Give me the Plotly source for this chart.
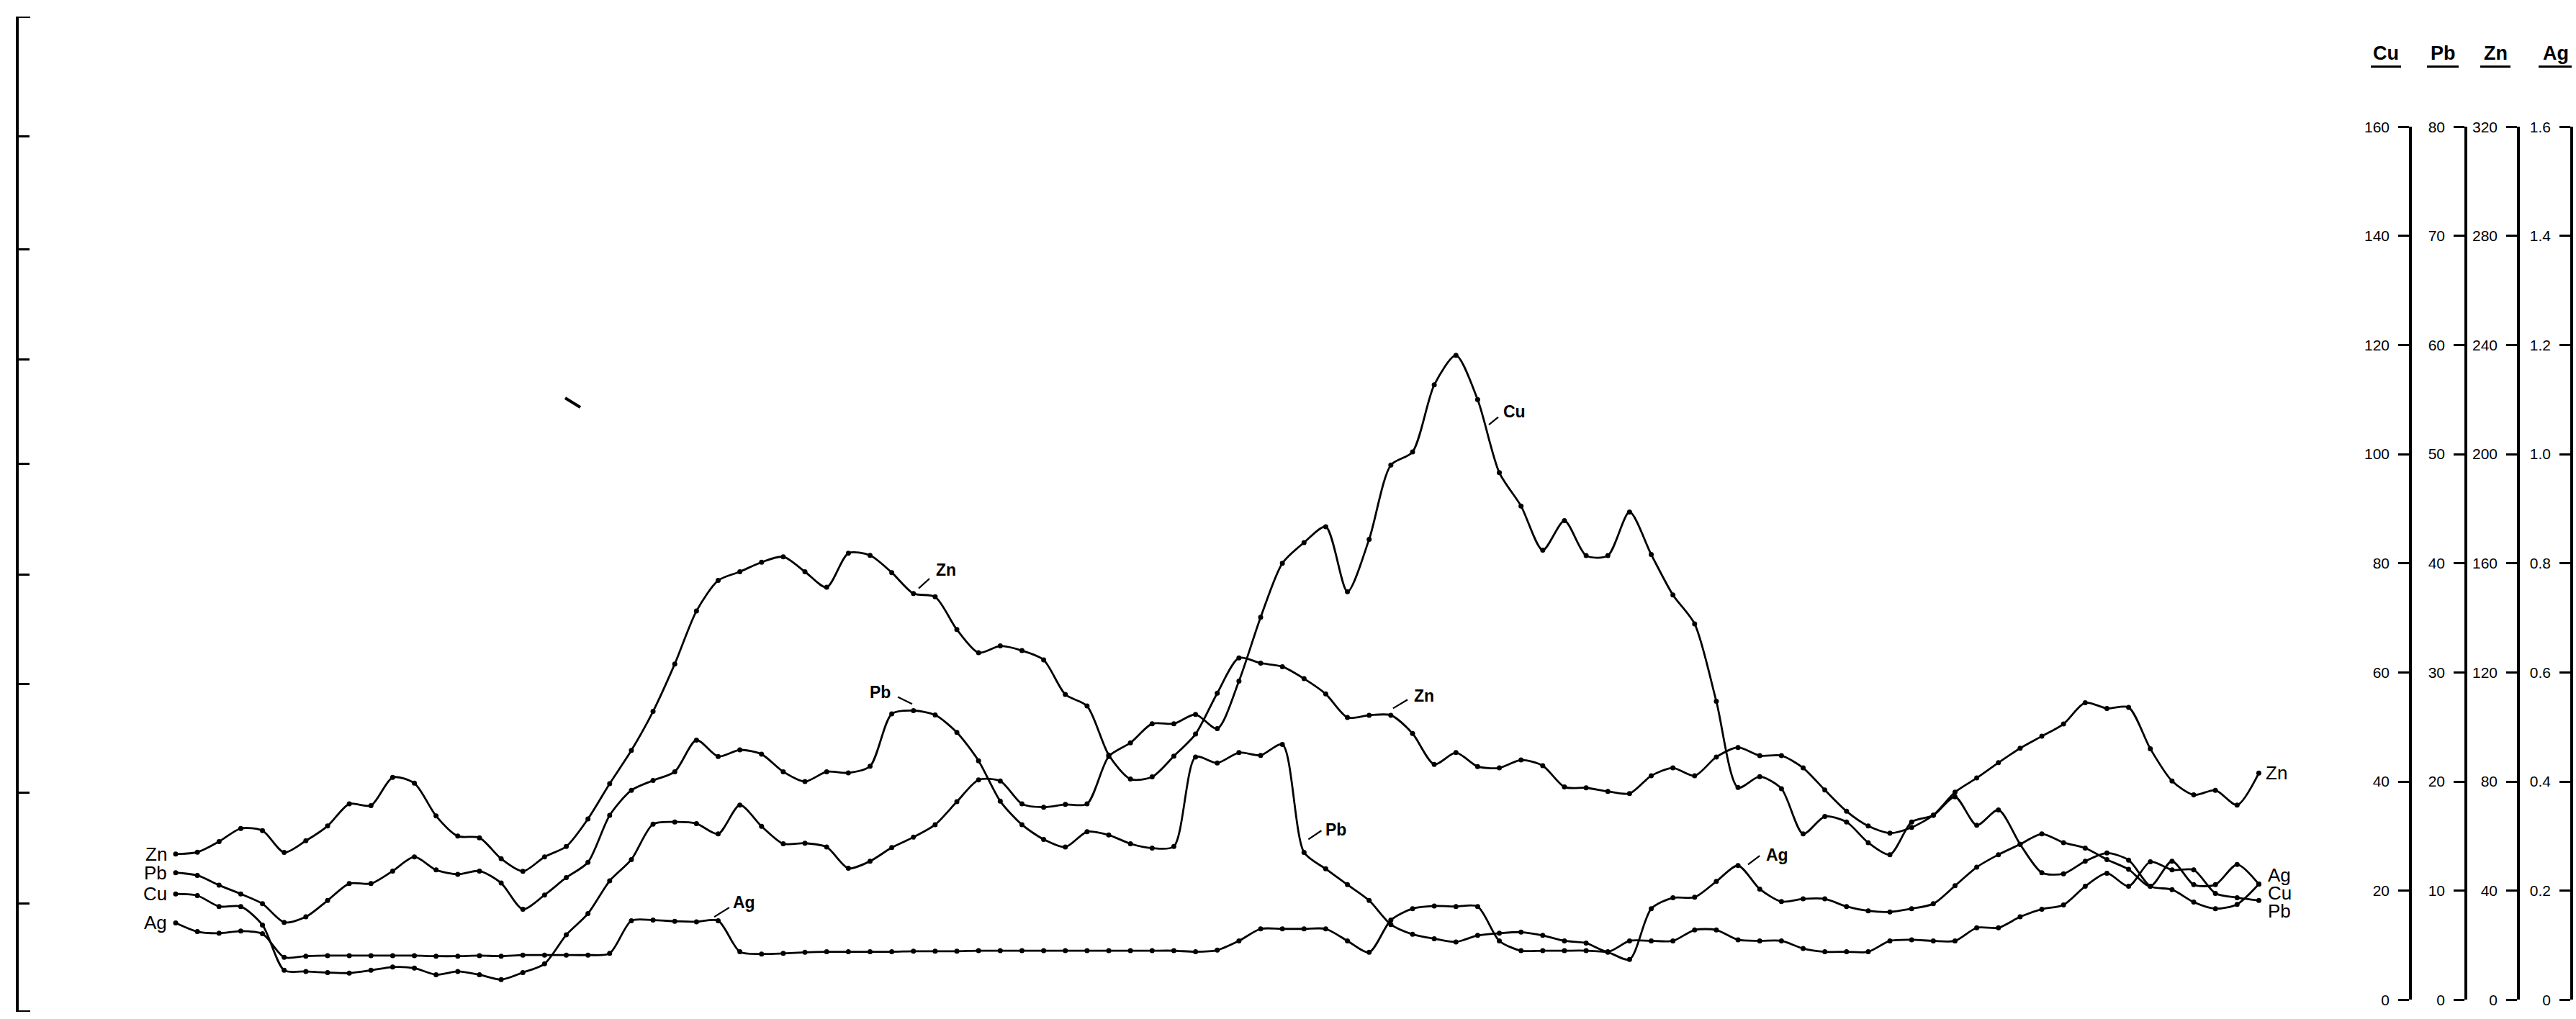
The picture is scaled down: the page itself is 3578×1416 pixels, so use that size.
import plotly.graph_objects as go

# Sample stations along the traverse (equally spaced)
station = list(range(97))

# Concentrations at each station
cu = [19.4, 19.1, 17.1, 17.1, 13.7,
      5.4, 5.2, 5.0, 4.9, 5.4,
      6.0, 5.8, 4.6, 5.2, 4.6,
      3.7, 5.0, 6.6, 11.9, 15.8,
      21.8, 25.7, 32.2, 32.6, 32.3,
      30.4, 35.7, 31.8, 28.6, 28.7,
      28.0, 24.1, 25.4, 27.9, 29.8,
      32.1, 36.3, 40.3, 40.1, 35.9,
      35.3, 35.8, 35.9, 44.6, 47.1,
      50.6, 50.6, 52.3, 49.7, 58.4,
      70.1, 80.0, 83.8, 86.7, 74.8,
      84.4, 98.0, 100.4, 112.7, 118.1,
      110.0, 96.6, 90.5, 82.4, 87.8,
      81.4, 81.4, 89.4, 81.6, 74.2,
      68.9, 54.7, 38.9, 40.9, 38.7,
      30.4, 33.6, 32.6, 28.8, 26.6,
      32.6, 33.8, 37.2, 32.0, 34.8,
      28.5, 23.3, 23.1, 25.4, 26.9,
      25.6, 20.8, 20.2, 17.9, 16.7,
      17.5, 21.2]

pb = [11.65, 11.4, 10.5, 9.7, 8.8,
      7.1, 7.6, 9.1, 10.65, 10.65,
      11.8, 13.1, 11.9, 11.5, 11.8,
      10.7, 8.3, 9.6, 11.2, 12.6,
      16.9, 19.2, 20.1, 20.9, 23.8,
      22.3, 22.9, 22.5, 20.9, 20.0,
      20.9, 20.8, 21.4, 26.2, 26.5,
      26.1, 24.5, 21.9, 18.2, 16.05,
      14.7, 14.0, 15.4, 15.1, 14.3,
      13.9, 14.05, 22.25, 21.7, 22.65,
      22.4, 23.4, 13.5, 12.0, 10.55,
      9.1, 6.9, 6.0, 5.6, 5.3,
      5.9, 6.1, 6.2, 5.9, 5.4,
      5.2, 4.4, 5.4, 5.4, 5.4,
      6.4, 6.4, 5.5, 5.4, 5.4,
      4.7, 4.4, 4.4, 4.4, 5.4,
      5.5, 5.4, 5.4, 6.6, 6.6,
      7.6, 8.3, 8.7, 10.4, 11.6,
      10.4, 12.65, 11.9, 11.9, 9.75,
      9.36, 9.1]

zn = [53.4, 54.1, 58.0, 62.8, 62.0,
      54.0, 58.3, 63.7, 71.8, 71.2,
      81.5, 79.4, 67.4, 60.0, 59.4,
      51.7, 47.1, 52.4, 56.2, 66.3,
      79.2, 91.4, 105.7, 123.1, 142.5,
      153.7, 156.9, 160.4, 162.4, 156.9,
      151.2, 163.7, 162.9, 156.6, 148.9,
      147.7, 135.7, 127.2, 129.7, 128.0,
      124.6, 111.9, 107.7, 89.7, 80.9,
      81.7, 89.3, 97.4, 112.4, 125.3,
      123.4, 122.1, 117.7, 112.1, 103.5,
      104.3, 104.3, 97.6, 86.3, 90.6,
      85.5, 85.0, 87.9, 85.8, 78.0,
      77.7, 76.4, 75.6, 82.1, 85.0,
      82.1, 89.0, 92.5, 89.5, 89.5,
      85.0, 76.9, 69.1, 63.7, 61.1,
      63.2, 67.7, 76.1, 81.3, 86.9,
      92.2, 96.6, 101.1, 108.9, 106.8,
      107.2, 92.0, 80.2, 75.1, 76.8,
      71.4, 83.1]

ag = [0.141, 0.125, 0.122, 0.126, 0.121,
      0.078, 0.080, 0.081, 0.081, 0.081,
      0.081, 0.081, 0.080, 0.080, 0.081,
      0.080, 0.082, 0.082, 0.082, 0.082,
      0.085, 0.145, 0.146, 0.144, 0.143,
      0.145, 0.088, 0.084, 0.085, 0.087,
      0.088, 0.088, 0.088, 0.088, 0.089,
      0.089, 0.089, 0.090, 0.090, 0.090,
      0.090, 0.090, 0.090, 0.090, 0.090,
      0.090, 0.090, 0.088, 0.091, 0.108,
      0.130, 0.130, 0.130, 0.130, 0.108,
      0.087, 0.146, 0.167, 0.172, 0.171,
      0.171, 0.108, 0.090, 0.090, 0.090,
      0.090, 0.087, 0.074, 0.167, 0.187,
      0.188, 0.217, 0.246, 0.203, 0.180,
      0.185, 0.185, 0.171, 0.163, 0.161,
      0.167, 0.176, 0.209, 0.243, 0.266,
      0.285, 0.304, 0.288, 0.278, 0.257,
      0.239, 0.208, 0.254, 0.211, 0.211,
      0.248, 0.212]

# Scale ticks for the four concentration axes
cu_ticks = [0, 20, 40, 60, 80, 100, 120, 140, 160]
pb_ticks = [0, 10, 20, 30, 40, 50, 60, 70, 80]
zn_ticks = [0, 40, 80, 120, 160, 200, 240, 280, 320]
ag_ticks = [0, 0.2, 0.4, 0.6, 0.8, 1.0, 1.2, 1.4, 1.6]
ag_tick_text = ["0", "0.2", "0.4", "0.6", "0.8", "1.0", "1.2", "1.4", "1.6"]

# Unlabelled ticks on the left frame line (in Cu units)
frame_ticks = [17.6, 37.9, 57.9, 77.9, 98.2, 117.3, 137.5, 158.3]

W, H = 3578, 1416
ML, MR, MT, MB = 26, 0, 23, 10
FRAME_LO, FRAME_HI = -2.2, 180.2
SPAN = FRAME_HI - FRAME_LO
dom = [(0 - FRAME_LO) / SPAN, (160 - FRAME_LO) / SPAN]

PX_PER_STATION = 30.14
X0 = -(244 - ML) / PX_PER_STATION
X1 = X0 + (W - ML - MR) / PX_PER_STATION


def px_x(px):
    return (px - ML) / (W - ML - MR)


def px_y(py):
    return (H - MB - py) / (H - MT - MB)


fig = go.Figure()

line_style = dict(color="black", width=2.8, shape="spline", smoothing=0.75)
marker_style = dict(color="black", size=7)
for name, vals, yax in [("Zn", zn, "y4"), ("Pb", pb, "y3"),
                        ("Cu", cu, "y2"), ("Ag", ag, "y5")]:
    fig.add_trace(go.Scatter(x=station, y=vals, name=name, mode="lines+markers",
                             xaxis="x", yaxis=yax, line=line_style,
                             marker=marker_style, showlegend=False,
                             hoverinfo="skip"))

tick_font = dict(family="Liberation Sans, Arial, sans-serif", size=21, color="black")


def conc_axis(rng, pos, vals, text):
    return dict(range=rng, domain=dom, anchor="free", position=pos, side="left",
                showline=True, linecolor="black", linewidth=3.5,
                ticks="outside", ticklen=15, tickwidth=3, tickcolor="black",
                tickvals=vals, ticktext=text, tickfont=tick_font,
                ticklabelstandoff=8, showgrid=False, zeroline=False)


fig.update_layout(
    width=W, height=H,
    margin=dict(l=ML, r=MR, t=MT, b=MB, pad=0),
    # transparent subplot backgrounds so the stacked scales do not hide each other
    paper_bgcolor="white", plot_bgcolor="rgba(0,0,0,0)",
    showlegend=False,
    xaxis=dict(range=[X0, X1], visible=False, showgrid=False, zeroline=False),
    yaxis=dict(range=[FRAME_LO, FRAME_HI], domain=[0, 1], showline=True,
               linecolor="black", linewidth=4, ticks="inside", ticklen=15,
               tickwidth=3, tickcolor="black", tickvals=frame_ticks,
               showticklabels=False, showgrid=False, zeroline=False),
    yaxis2=conc_axis([0, 160], px_x(3348), cu_ticks, [str(v) for v in cu_ticks]),
    yaxis3=conc_axis([0, 80], px_x(3425), pb_ticks, [str(v) for v in pb_ticks]),
    yaxis4=conc_axis([0, 320], px_x(3498), zn_ticks, [str(v) for v in zn_ticks]),
    yaxis5=conc_axis([0, 1.6], px_x(3572), ag_ticks, ag_tick_text),
)

# Bracket ends of the left frame line
for yv in (FRAME_LO, FRAME_HI):
    fig.add_shape(type="line", xref="paper", yref="y",
                  x0=px_x(24), x1=px_x(42), y0=yv, y1=yv,
                  line=dict(color="black", width=4))

label_font = dict(family="Liberation Sans Narrow, Liberation Sans, Arial, sans-serif",
                  size=26, color="black")
bold_font = dict(family="Liberation Sans, Arial, sans-serif", size=23, color="black")

# Series names at the start of each profile
for text, vals, yref in [("Zn", zn, "y4"), ("Pb", pb, "y3"),
                         ("Cu", cu, "y2"), ("Ag", ag, "y5")]:
    fig.add_annotation(x=-0.33, y=vals[0], xref="x", yref=yref, text=text,
                       showarrow=False, xanchor="right", yanchor="middle",
                       font=label_font)

# Series names at the end of each profile
fig.add_annotation(x=96.25, y=zn[-1], xref="x", yref="y4", text="Zn",
                   showarrow=False, xanchor="left", yanchor="middle", font=label_font)
for text, yv in [("Ag", 22.8), ("Cu", 19.5), ("Pb", 16.3)]:
    fig.add_annotation(x=96.35, y=yv, xref="x", yref="y", text=text,
                       showarrow=False, xanchor="left", yanchor="middle",
                       font=label_font)

# Callout labels along the profiles, with short leader strokes
callouts = [
    ("Zn", 35.5, 78.8, (34.24, 75.4, 34.74, 77.2)),
    ("Pb", 32.48, 56.4, (33.28, 55.5, 33.94, 54.2)),
    ("Ag", 26.18, 17.8, (24.82, 15.2, 25.51, 16.9)),
    ("Cu", 61.68, 107.8, (60.52, 105.4, 60.95, 106.8)),
    ("Zn", 57.53, 55.7, (56.1, 53.4, 56.77, 55.0)),
    ("Pb", 53.48, 31.2, (52.2, 29.4, 52.8, 31.0)),
    ("Ag", 73.8, 26.6, (72.46, 24.8, 73.0, 26.4)),
]
for text, lx, ly, (ax0, ay0, ax1, ay1) in callouts:
    fig.add_annotation(x=lx, y=ly, xref="x", yref="y", text="<b>%s</b>" % text,
                       showarrow=False, xanchor="center", yanchor="middle",
                       font=bold_font)
    fig.add_shape(type="line", xref="x", yref="y", x0=ax0, y0=ay0, x1=ax1, y1=ay1,
                  line=dict(color="black", width=2.2))

# Headers above the four scales, underlined
headers = [("Cu", 3314, 3293, 3335), ("Pb", 3393, 3371, 3415),
           ("Zn", 3466, 3445, 3487), ("Ag", 3550, 3526, 3572)]
for text, cx, u0, u1 in headers:
    fig.add_annotation(x=px_x(cx), y=px_y(74), xref="paper", yref="paper",
                       text="<b>%s</b>" % text, showarrow=False,
                       xanchor="center", yanchor="middle",
                       font=dict(family="Liberation Sans, Arial, sans-serif",
                                 size=27, color="black"))
    fig.add_shape(type="line", xref="paper", yref="paper",
                  x0=px_x(u0), x1=px_x(u1), y0=px_y(92.5), y1=px_y(92.5),
                  line=dict(color="black", width=3))

# Small ink stroke in the upper left of the sheet
fig.add_shape(type="line", xref="paper", yref="paper",
              x0=px_x(785), y0=px_y(553), x1=px_x(806), y1=px_y(566),
              line=dict(color="black", width=4))

fig.write_html("out.html")
